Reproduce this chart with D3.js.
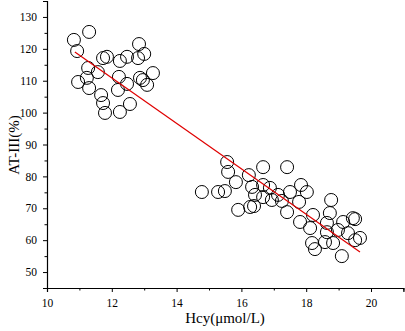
<!DOCTYPE html>
<html>
<head>
<meta charset="utf-8">
<script src="https://cdn.jsdelivr.net/npm/d3@7"></script>
<style>
  body { margin: 0; background: #fff; }
  #chart { width: 405px; height: 331px; }
</style>
</head>
<body>
<div id="chart"></div>
<script>
// data
var hcy = [11.30, 10.83, 10.93, 11.73, 11.27, 11.57, 10.96, 11.23, 11.30, 11.67, 11.73, 11.79,
           12.84, 13.00, 12.81, 12.47, 12.25, 11.85, 13.27, 12.96, 13.09, 12.22, 12.47, 12.19,
           12.56, 12.25, 12.87,
           14.78, 15.28, 15.49, 15.56, 15.59, 15.83, 16.23, 16.67, 17.41, 16.33, 16.67, 16.88,
           16.42, 16.67, 16.27, 16.39, 15.90, 16.94, 17.13, 17.25, 17.50, 17.84, 18.02, 17.78,
           17.41, 17.81, 18.21, 18.12, 18.77, 18.73, 18.64, 19.14, 19.44, 19.51, 19.29, 18.98,
           18.64, 19.66, 19.51, 18.18, 18.27, 18.58, 18.83, 19.10];
var at3 = [125.3, 122.8, 119.3, 117.1, 114.0, 112.7, 109.6, 110.9, 107.7, 105.5, 103.0, 99.9,
           121.5, 118.4, 117.1, 117.5, 116.2, 117.5, 112.4, 110.2, 108.7, 111.2, 109.0, 107.1,
           102.7, 100.2, 110.9,
           75.1, 75.1, 75.4, 84.5, 81.4, 78.2, 80.4, 82.9, 82.9, 76.7, 77.3, 76.4,
           74.2, 73.5, 70.4, 70.7, 69.5, 72.6, 74.2, 72.3, 75.1, 77.3, 75.1, 72.0,
           68.8, 65.7, 67.9, 63.8, 72.6, 68.5, 65.4, 65.7, 66.9, 66.6, 62.2, 63.2,
           62.5, 60.7, 60.0, 59.1, 57.2, 59.4, 59.1, 55.0];
// fitted line ends
var fitX = [10.86, 19.66];
var fitY = [119.0, 56.3];
var xTicks = [10, 12, 14, 16, 18, 20];
var xMinor = [11, 13, 15, 17, 19, 21];
var yTicks = [50, 60, 70, 80, 90, 100, 110, 120, 130];
var yMinor = [45, 55, 65, 75, 85, 95, 105, 115, 125, 135];

var W = 405, H = 331;
var margin = {top: 1, right: 1.6, bottom: 43, left: 47};
var width = W - margin.left - margin.right;
var height = H - margin.top - margin.bottom;

var svg = d3.select("#chart").append("svg")
    .attr("width", W)
    .attr("height", H);

var plot = svg.append("g")
    .attr("transform", `translate(${margin.left}, ${margin.top})`);

var xScale = d3.scaleLinear().domain([10, 21]).range([0, width]);
var yScale = d3.scaleLinear().domain([45, 135]).range([height, 0]);

var font = "'Liberation Serif', 'Times New Roman', serif";

// x axis
var xAxis = d3.axisBottom(xScale).tickValues(xTicks).tickSize(4).tickPadding(7).tickFormat(d3.format("d"));
plot.append("g")
    .attr("transform", `translate(0, ${height})`)
    .call(xAxis);
plot.append("g")
    .attr("transform", `translate(0, ${height})`)
    .call(d3.axisBottom(xScale).tickValues(xMinor).tickSize(2.5).tickFormat(""))
    .call(g => g.select(".domain").remove());

// y axis
var yAxis = d3.axisLeft(yScale).tickValues(yTicks).tickSize(4).tickPadding(6);
plot.append("g").call(yAxis);
plot.append("g")
    .call(d3.axisLeft(yScale).tickValues(yMinor).tickSize(2.5).tickFormat(""))
    .call(g => g.select(".domain").remove());

plot.selectAll(".domain").attr("stroke", "#000").attr("stroke-width", 1.2);
plot.selectAll(".tick line").attr("stroke", "#000");
plot.selectAll(".tick text")
    .attr("fill", "#000")
    .style("font-family", font)
    .style("font-size", "11.5px");

// axis titles
svg.append("text")
    .attr("x", 225)
    .attr("y", 323)
    .attr("text-anchor", "middle")
    .style("font-family", font)
    .style("font-size", "15px")
    .text("Hcy(μmol/L)");

svg.append("text")
    .attr("transform", "translate(19, 145) rotate(-90)")
    .attr("text-anchor", "middle")
    .style("font-family", font)
    .style("font-size", "15px")
    .text("AT-III(%)");

// points
var pts = hcy.map((d, i) => ({x: d, y: at3[i]}));
plot.selectAll("circle")
    .data(pts)
    .join("circle")
    .attr("cx", d => xScale(d.x))
    .attr("cy", d => yScale(d.y))
    .attr("r", 6.5)
    .attr("fill", "none")
    .attr("stroke", "#000")
    .attr("stroke-width", 1);

// fit line
var line = d3.line().x(d => xScale(d[0])).y(d => yScale(d[1]));
plot.append("path")
    .datum(fitX.map((d, i) => [d, fitY[i]]))
    .attr("d", line)
    .attr("fill", "none")
    .attr("stroke", "#e00000")
    .attr("stroke-width", 1.2);
</script>
</body>
</html>
